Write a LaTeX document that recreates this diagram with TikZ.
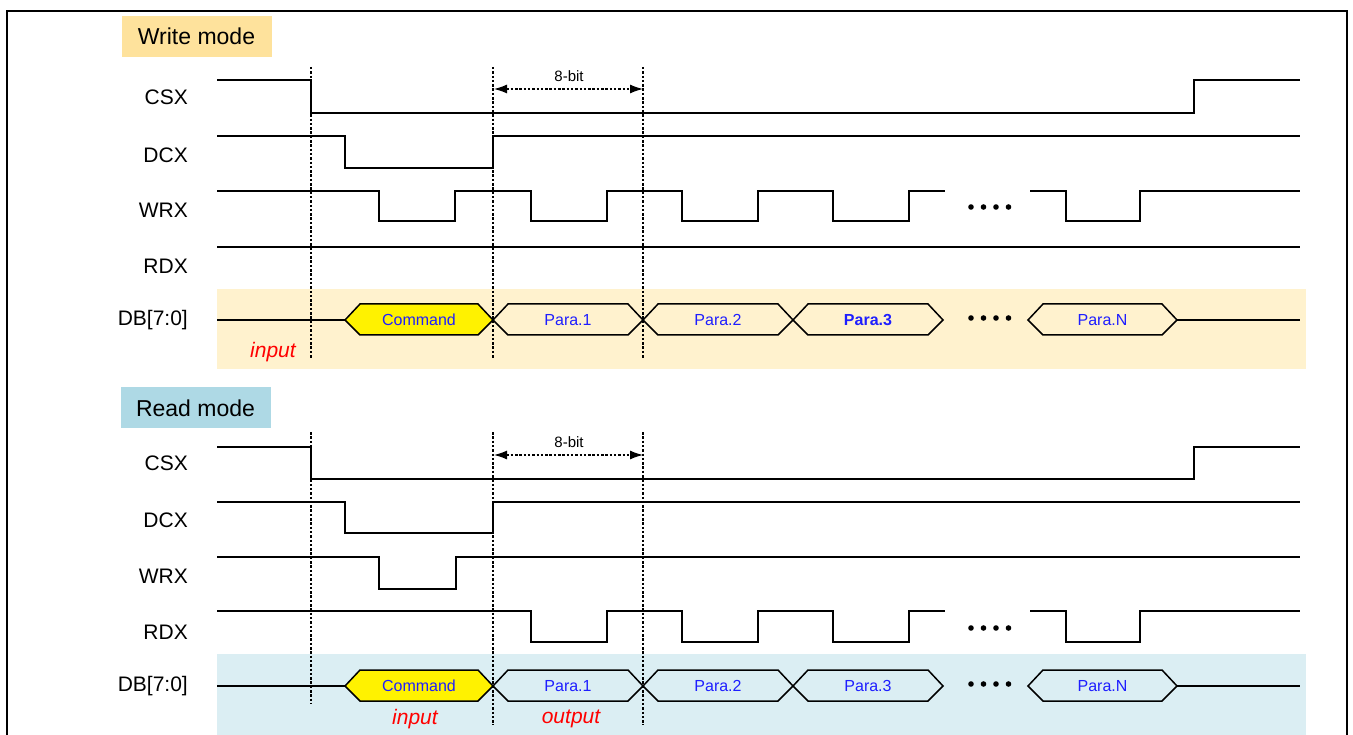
\documentclass[tikz,border=0pt]{standalone}
\usepackage{fontspec}
\setmainfont{Liberation Sans}
\usetikzlibrary{arrows.meta}
\definecolor{wband}{RGB}{255,242,206}
\definecolor{rband}{RGB}{219,238,243}
\definecolor{wtag}{RGB}{254,226,156}
\definecolor{rtag}{RGB}{174,217,229}
\definecolor{paratxt}{RGB}{30,30,255}
\tikzset{
  sig/.style={line width=1.5pt, line join=miter},
  guide/.style={line width=1.4pt, dash pattern=on 2.5pt off 1.8pt},
  span/.style={line width=1.2pt, dash pattern=on 2.5pt off 1.8pt,
    {Latex[length=13pt,width=9pt]}-{Latex[length=13pt,width=9pt]}},
  lbl/.style={anchor=east, inner sep=0pt, font=\fontsize{21}{23}\selectfont},
  tag/.style={minimum width=150pt, minimum height=41pt, inner sep=0pt,
    font=\fontsize{23}{25}\selectfont},
  bustxt/.style={text=paratxt, inner sep=0pt, font=\fontsize{16}{17}\selectfont},
  note/.style={text=red, inner sep=0pt, font=\fontsize{21}{23}\selectfont\itshape},
  small/.style={inner sep=0pt, font=\fontsize{15}{16}\selectfont},
}
\begin{document}
\begin{tikzpicture}[x=1pt, y=-1pt]
  \useasboundingbox (0,0) rectangle (1353,735);
  % background bands
  \fill[wband] (217,289) rectangle (1306,369);
  \fill[rband] (217,654) rectangle (1306,735);
  % frame
  \draw[line width=2.2pt] (7,740) -- (7,11) -- (1347,11) -- (1347,740);

  % ---------------- write mode ----------------
  \node[tag, fill=wtag] (wmode) at (196.5,36.5) {Write mode};
  \foreach \n/\t/\y in {wcsx/CSX/97, wdcx/DCX/155, wwrx/WRX/210, wrdx/RDX/266, wdb/{DB[7:0]}/320}
    \node[lbl] (\n) at (188,\y) {\t};

  \draw[sig] (217,80) -- (311,80) -- (311,113) -- (1194,113) -- (1194,80) -- (1300,80);
  \draw[sig] (217,136) -- (345,136) -- (345,168) -- (493,168) -- (493,136) -- (1300,136);
  \draw[sig] (217,191) foreach \p in {379,531,682,833} { -- (\p,191) -- (\p,221) -- (\p+76,221) -- (\p+76,191) } -- (945,191);
  \draw[sig] (1030,191) -- (1066,191) -- (1066,221) -- (1140,221) -- (1140,191) -- (1300,191);
  \draw[sig] (217,247) -- (1300,247);
  \foreach \x in {971,983.5,996,1008.5} \fill (\x,207) circle (2.8);

  % data bus
  \draw[sig] (217,320) -- (345,320);
  \draw[sig] (1177,320) -- (1300,320);
  \draw[sig, fill=yellow] (345,320) -- (360,304) -- (478,304) -- (493,320) -- (478,335) -- (360,335) -- cycle;
  \node[bustxt] (wcmd) at (419,320) {Command};
  \foreach \n/\a/\b/\t in {wp1/493/643/Para.1, wp2/643/793/Para.2, wp3/793/943/\textbf{Para.3}, wpn/1028/1177/Para.N} {
    \draw[sig] (\a,320) -- (\a+15,304) -- (\b-15,304) -- (\b,320) -- (\b-15,335) -- (\a+15,335) -- cycle;
    \node[bustxt] (\n) at ({(\a+\b)/2},320) {\t};
  }
  \foreach \x in {971,983.5,996,1008.5} \fill (\x,318) circle (2.8);
  \node[note] (win) at (273,352) {input};

  % timing guides
  \foreach \x in {311,493,643} \draw[guide] (\x,67) -- (\x,358);
  \coordinate (w8a) at (494,89);
  \coordinate (w8b) at (643,89);
  \draw[span] (w8a) -- (w8b);
  \node[small] (w8) at (569,76) {8-bit};

  % ---------------- read mode ----------------
  \node[tag, fill=rtag] (rmode) at (195.5,408) {Read mode};
  \foreach \n/\t/\y in {rcsx/CSX/463, rdcx/DCX/520, rwrx/WRX/576, rrdx/RDX/632, rdb/{DB[7:0]}/686}
    \node[lbl] (\n) at (188,\y) {\t};

  \draw[sig] (217,447) -- (311,447) -- (311,479) -- (1194,479) -- (1194,447) -- (1300,447);
  \draw[sig] (217,502) -- (345,502) -- (345,533) -- (493,533) -- (493,502) -- (1300,502);
  \draw[sig] (217,557) -- (379,557) -- (379,589) -- (456,589) -- (456,557) -- (1300,557);
  \draw[sig] (217,611) foreach \p in {531,682,833} { -- (\p,611) -- (\p,642) -- (\p+76,642) -- (\p+76,611) } -- (945,611);
  \draw[sig] (1030,611) -- (1066,611) -- (1066,642) -- (1140,642) -- (1140,611) -- (1300,611);
  \foreach \x in {971,983.5,996,1008.5} \fill (\x,628) circle (2.8);

  % data bus
  \draw[sig] (217,686) -- (345,686);
  \draw[sig] (1177,686) -- (1300,686);
  \draw[sig, fill=yellow] (345,686) -- (360,670) -- (478,670) -- (493,686) -- (478,701) -- (360,701) -- cycle;
  \node[bustxt] (rcmd) at (419,686) {Command};
  \foreach \n/\a/\b/\t in {rp1/493/643/Para.1, rp2/643/793/Para.2, rp3/793/943/Para.3, rpn/1028/1177/Para.N} {
    \draw[sig] (\a,686) -- (\a+15,670) -- (\b-15,670) -- (\b,686) -- (\b-15,701) -- (\a+15,701) -- cycle;
    \node[bustxt] (\n) at ({(\a+\b)/2},686) {\t};
  }
  \foreach \x in {971,983.5,996,1008.5} \fill (\x,684) circle (2.8);
  \node[note] (rin) at (415,719) {input};
  \node[note] (rout) at (571,719) {output};

  % timing guides
  \draw[guide] (311,432) -- (311,703);
  \foreach \x in {493,643} \draw[guide] (\x,432) -- (\x,725);
  \coordinate (r8a) at (494,455);
  \coordinate (r8b) at (643,455);
  \draw[span] (r8a) -- (r8b);
  \node[small] (r8) at (569,442) {8-bit};
\end{tikzpicture}
\end{document}
